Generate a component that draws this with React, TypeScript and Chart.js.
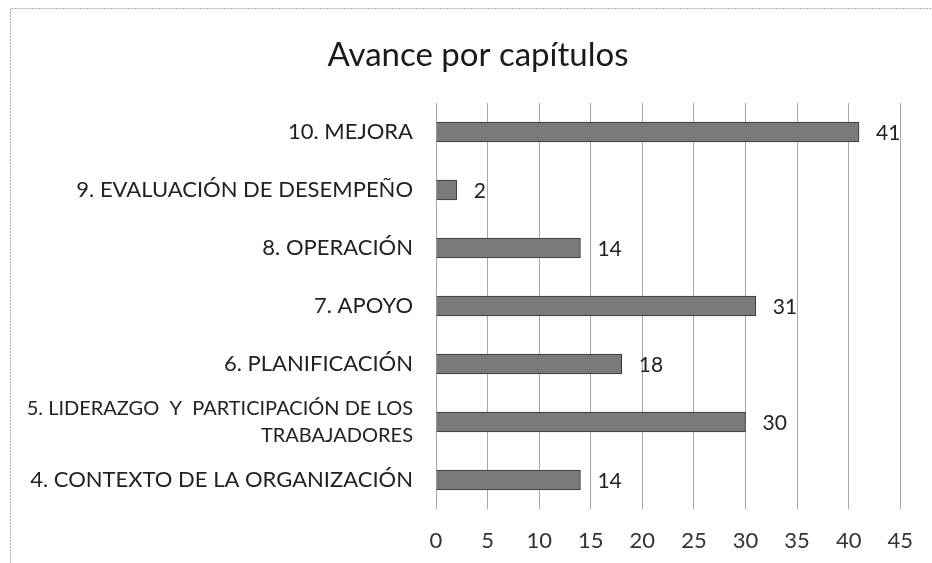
import React, { useEffect, useRef } from "react";
import { Chart, registerables } from "chart.js";

Chart.register(...registerables);

const TITLE = "Avance por capítulos";
const categories: (string | string[])[] = [
  "10. MEJORA",
  "9. EVALUACIÓN DE DESEMPEÑO",
  "8. OPERACIÓN",
  "7. APOYO",
  "6. PLANIFICACIÓN",
  ["5. LIDERAZGO  Y  PARTICIPACIÓN DE LOS", "TRABAJADORES"],
  "4. CONTEXTO DE LA ORGANIZACIÓN",
];
const values = [41, 2, 14, 31, 18, 30, 14];
const xMin = 0;
const xMax = 45;
const xStep = 5;

const FONT = "Lato, 'Open Sans', sans-serif";

const valueLabels = {
  id: "valueLabels",
  afterDatasetsDraw(chart: any) {
    const ctx = chart.ctx;
    const meta = chart.getDatasetMeta(0);
    ctx.save();
    ctx.font = `21px ${FONT}`;
    ctx.fillStyle = "#222";
    ctx.textAlign = "left";
    ctx.textBaseline = "middle";
    meta.data.forEach((bar: any, i: number) => {
      ctx.fillText(String(values[i]), bar.x + 17, bar.y + 1);
    });
    ctx.restore();
  },
};

const frameAndTitle = {
  id: "frameAndTitle",
  beforeDraw(chart: any) {
    const ctx = chart.ctx;
    ctx.save();
    ctx.strokeStyle = "#b0b0b0";
    ctx.lineWidth = 1;
    ctx.setLineDash([2, 1]);
    ctx.beginPath();
    ctx.moveTo(10.5, 563);
    ctx.lineTo(10.5, 8.5);
    ctx.lineTo(932, 8.5);
    ctx.stroke();
    ctx.restore();
  },
  afterDraw(chart: any) {
    const ctx = chart.ctx;
    ctx.save();
    ctx.font = `33px ${FONT}`;
    ctx.fillStyle = "#1a1a1a";
    ctx.textAlign = "center";
    ctx.textBaseline = "middle";
    ctx.fillText(TITLE, 478, 55);
    ctx.restore();
  },
};

export default function App() {
  const ref = useRef<HTMLCanvasElement>(null);
  useEffect(() => {
    if (!ref.current) return;
    const chart = new Chart(ref.current, {
      type: "bar",
      data: {
        labels: categories,
        datasets: [
          {
            data: values,
            backgroundColor: "#7a7a7a",
            borderColor: "#333333",
            borderWidth: 1,
            barThickness: 20,
          },
        ],
      },
      options: {
        indexAxis: "y",
        animation: false,
        responsive: false,
        maintainAspectRatio: false,
        layout: { padding: { left: 0, right: 29, top: 103, bottom: 0 } },
        plugins: {
          legend: { display: false },
          tooltip: { enabled: false },
          title: { display: false },
        },
        scales: {
          x: {
            min: xMin,
            max: xMax,
            ticks: {
              stepSize: xStep,
              color: "#333",
              font: { family: FONT, size: 22 },
              padding: 19,
            },
            grid: { color: "#a8a8a8", drawTicks: false },
            border: { display: false },
            afterFit(scale: any) {
              scale.height = 54;
            },
          },
          y: {
            ticks: {
              autoSkip: false,
              color: "#222",
              font: (c: any) => ({
                family: FONT,
                size: Array.isArray(categories[c.index]) ? 20 : 22,
                lineHeight: 1.35,
              }),
              padding: 23,
            },
            grid: { display: false, drawTicks: false },
            border: { display: false },
            afterFit(scale: any) {
              scale.width = 436;
            },
          },
        },
      },
      plugins: [frameAndTitle, valueLabels],
    });
    return () => chart.destroy();
  }, []);
  return (
    <div style={{ position: "absolute", left: 0, top: 0, width: 932, height: 563, background: "#fff" }}>
      <canvas ref={ref} width={932} height={563} style={{ display: "block" }} />
    </div>
  );
}
